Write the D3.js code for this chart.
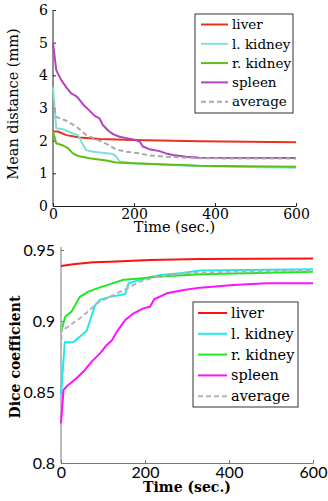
<!DOCTYPE html>
<html lang="en">
<head>
<meta charset="utf-8">
<title>Registration convergence</title>
<script src="https://d3js.org/d3.v7.min.js"></script>
<style>
  body { margin: 0; background: #fff; }
</style>
</head>
<body>
<div id="plotContent"></div>
<script>
// series names (legend order)
var organs = ["liver", "l. kidney", "r. kidney", "spleen", "average"];

// top panel: mean distance (mm) vs time (sec.)
var distLiver = [[0, 2.28], [12, 2.28], [33, 2.17], [66, 2.10], [115, 2.05], [197, 2.02], [362, 1.98], [600, 1.95]];
var distLKidney = [[0, 3.63], [8, 2.38], [25, 2.35], [49, 2.22], [62, 2.17], [70, 1.97], [82, 1.71], [99, 1.66], [148, 1.59], [156, 1.52], [164, 1.36], [197, 1.31], [279, 1.26], [400, 1.21], [600, 1.17]];
var distRKidney = [[0, 2.28], [8, 1.92], [25, 1.85], [37, 1.77], [49, 1.61], [62, 1.53], [90, 1.46], [132, 1.39], [156, 1.33], [197, 1.31], [279, 1.27], [362, 1.23], [600, 1.20]];
var distSpleen = [[0, 5.0], [8, 4.16], [20, 3.86], [33, 3.63], [45, 3.45], [59, 3.35], [66, 3.24], [78, 3.06], [90, 2.92], [103, 2.76], [115, 2.68], [123, 2.48], [136, 2.31], [148, 2.20], [164, 2.12], [185, 2.07], [205, 2.02], [214, 1.97], [222, 1.82], [238, 1.74], [263, 1.68], [279, 1.61], [296, 1.56], [329, 1.51], [362, 1.48], [600, 1.47]];
var distAverage = [[0, 3.24], [8, 2.73], [33, 2.61], [58, 2.43], [82, 2.17], [107, 2.04], [132, 1.90], [156, 1.73], [181, 1.66], [214, 1.61], [238, 1.55], [279, 1.51], [362, 1.46], [600, 1.45]];
var distTicksY = [0, 1, 2, 3, 4, 5, 6];

// bottom panel: dice coefficient vs time (sec.)
var diceLiver = [[0, 0.9387], [29, 0.9400], [77, 0.9413], [117, 0.9418], [212, 0.9430], [331, 0.9437], [600, 0.9441]];
var diceLKidney = [[0, 0.848], [9, 0.885], [29, 0.885], [61, 0.893], [81, 0.911], [93, 0.915], [117, 0.917], [153, 0.919], [161, 0.9265], [188, 0.929], [236, 0.9324], [284, 0.9336], [331, 0.9355], [600, 0.9364]];
var diceRKidney = [[0, 0.892], [10, 0.903], [25, 0.9066], [45, 0.917], [65, 0.9207], [93, 0.9237], [117, 0.926], [149, 0.929], [188, 0.930], [228, 0.9312], [331, 0.9329], [600, 0.9347]];
var diceSpleen = [[0, 0.828], [6, 0.8514], [13, 0.8538], [37, 0.8597], [57, 0.8655], [73, 0.8714], [93, 0.8772], [109, 0.8831], [121, 0.8862], [133, 0.8925], [153, 0.9007], [173, 0.9054], [196, 0.9089], [212, 0.9100], [222, 0.9153], [252, 0.9195], [292, 0.9218], [331, 0.9235], [411, 0.9254], [490, 0.9265], [600, 0.9265]];
var diceAverage = [[0, 0.881], [2, 0.895], [6, 0.8937], [21, 0.897], [45, 0.9019], [69, 0.9078], [85, 0.9125], [117, 0.9171], [153, 0.9223], [188, 0.9277], [228, 0.9312], [292, 0.9336], [411, 0.9347], [600, 0.9355]];
var diceTicksY = [0.8, 0.85, 0.9, 0.95];

var timeTicks = [0, 200, 400, 600];

var svg = d3.select("#plotContent")
  .append("svg")
  .attr("width", 328)
  .attr("height", 501);

function drawPanel(p) {
  var x = d3.scaleLinear().domain([0, 600]).range([p.left, p.right]);
  var y = d3.scaleLinear().domain(p.yDomain).range([p.bottom, p.top]);
  var g = svg.append("g");

  // axes
  var ax = g.append("g")
    .attr("transform", "translate(0," + p.bottom + ")")
    .call(d3.axisBottom(x).tickValues(timeTicks).tickSizeInner(-3).tickSizeOuter(0).tickPadding(p.xPad));
  var ay = g.append("g")
    .attr("transform", "translate(" + p.left + ",0)")
    .call(d3.axisLeft(y).tickValues(p.yTicks).tickFormat(p.yFormat).tickSizeInner(-3).tickSizeOuter(0).tickPadding(p.yPad));
  [ax, ay].forEach(function(a) {
    a.select(".domain").attr("stroke", p.axisColor);
    a.selectAll(".tick line").attr("stroke", p.axisColor);
    a.selectAll(".tick text").attr("fill", "#000")
      .style("font-family", p.tickFont)
      .style("font-size", p.tickSize + "px");
  });
  // y axis line extends slightly above last tick
  ay.select(".domain").attr("d", "M0," + (p.axisTop) + "V" + p.bottom);

  // series
  var line = d3.line().x(function(d) { return x(d[0]); }).y(function(d) { return y(d[1]); });
  p.series.forEach(function(s, i) {
    g.append("path")
      .datum(s)
      .attr("fill", "none")
      .attr("stroke", p.colors[i])
      .attr("stroke-width", 2)
      .attr("stroke-linejoin", "round")
      .attr("stroke-dasharray", i === 4 ? "5,3" : null)
      .attr("d", line);
  });

  // axis titles
  g.append("text")
    .attr("x", (p.left + p.right) / 2)
    .attr("y", p.xTitleY)
    .attr("text-anchor", "middle")
    .style("font-family", "'DejaVu Serif', serif")
    .style("font-size", p.titleSize + "px")
    .style("font-weight", p.bold ? "bold" : "normal")
    .text("Time (sec.)");
  g.append("text")
    .attr("transform", "translate(" + p.yTitleX + "," + p.yTitleCy + ") rotate(-90)")
    .attr("text-anchor", "middle")
    .style("font-family", "'DejaVu Serif', serif")
    .style("font-size", p.titleSize + "px")
    .style("font-weight", p.bold ? "bold" : "normal")
    .text(p.yTitle);

  // legend
  var L = p.legend;
  g.append("rect")
    .attr("x", L.x0).attr("y", L.y0)
    .attr("width", L.x1 - L.x0).attr("height", L.y1 - L.y0)
    .attr("fill", "#fff").attr("stroke", "#333").attr("stroke-width", 1);
  organs.forEach(function(name, i) {
    var yy = L.first + i * L.step;
    g.append("line")
      .attr("x1", L.lx0).attr("x2", L.lx1)
      .attr("y1", yy).attr("y2", yy)
      .attr("stroke", p.colors[i]).attr("stroke-width", 2)
      .attr("stroke-dasharray", i === 4 ? "5,3" : null);
    g.append("text")
      .attr("x", L.tx).attr("y", yy)
      .attr("dy", "0.35em")
      .style("font-family", "'DejaVu Serif', serif")
      .style("font-size", L.font + "px")
      .text(name);
  });
}

drawPanel({
  left: 53, right: 296, top: 10, bottom: 206, axisTop: 10,
  yDomain: [0, 6], yTicks: distTicksY, yFormat: d3.format("d"),
  xPad: 3, yPad: 5, tickFont: "'DejaVu Serif', serif", tickSize: 14, axisColor: "#222",
  series: [distLiver, distLKidney, distRKidney, distSpleen, distAverage],
  colors: ["#e8321e", "#80e0d8", "#5cbf12", "#b244bc", "#aaaaaa"],
  xTitleY: 232, yTitleX: 18, yTitleCy: 104, titleSize: 14.5, yTitle: "Mean distance (mm)", bold: false,
  legend: { x0: 195, x1: 293, y0: 14, y1: 113, lx0: 201, lx1: 228, tx: 232, first: 24.5, step: 19.3, font: 13.5 }
});

drawPanel({
  left: 61, right: 313, top: 250, bottom: 463, axisTop: 247,
  yDomain: [0.8, 0.95], yTicks: diceTicksY, yFormat: function(d) { return d3.format("")(+d.toFixed(2)); },
  xPad: 4, yPad: 6, tickFont: "Lato, sans-serif", tickSize: 16, axisColor: "#777",
  series: [diceLiver, diceLKidney, diceRKidney, diceSpleen, diceAverage],
  colors: ["#ff1010", "#20e8e8", "#20e820", "#ff10ff", "#b4b4b4"],
  xTitleY: 492, yTitleX: 20, yTitleCy: 357, titleSize: 14, yTitle: "Dice coefficient", bold: true,
  legend: { x0: 193, x1: 298, y0: 302, y1: 407, lx0: 198, lx1: 227, tx: 231, first: 313, step: 20.8, font: 14.5 }
});
</script>
</body>
</html>
